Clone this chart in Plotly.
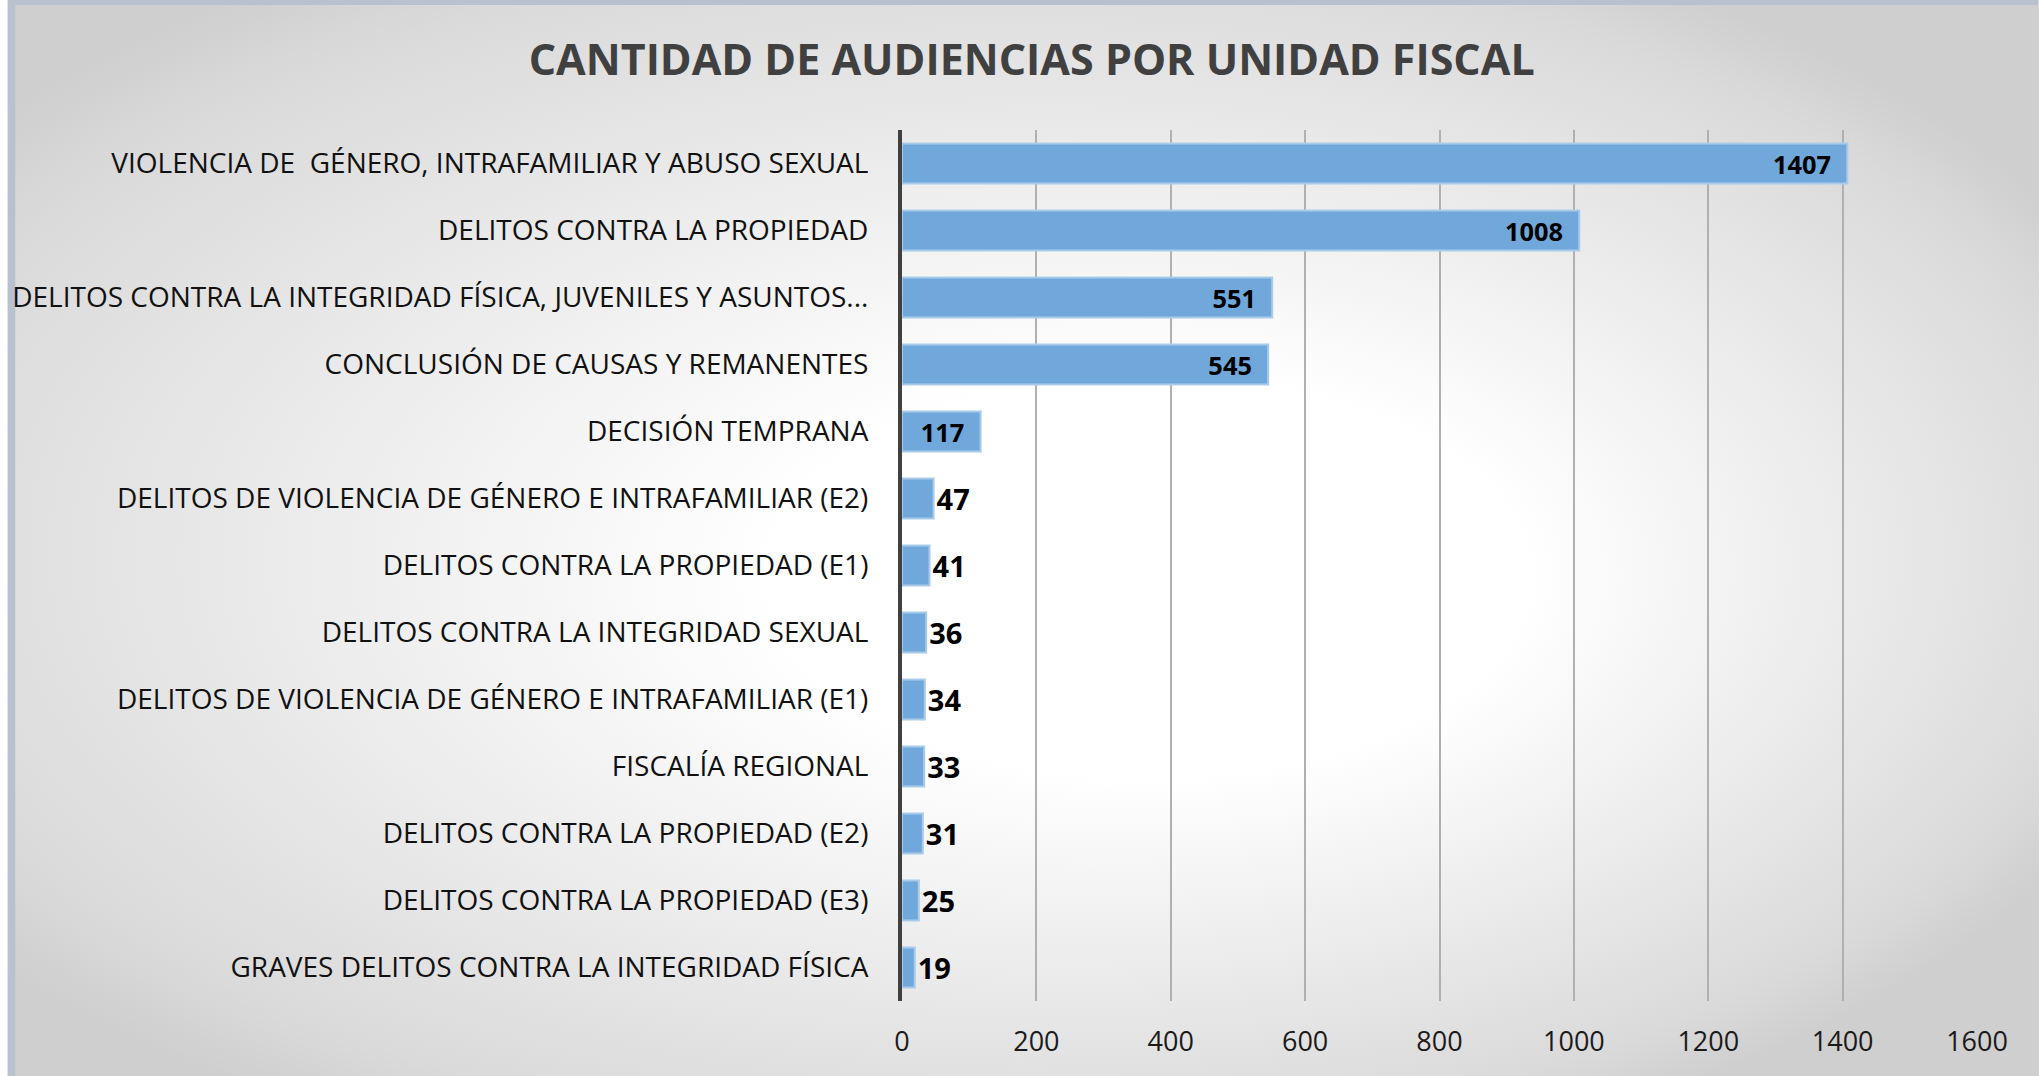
import base64

import plotly.graph_objects as go

# data
unidades = [
    "VIOLENCIA DE \u00a0GÉNERO, INTRAFAMILIAR Y ABUSO SEXUAL",
    "DELITOS CONTRA LA PROPIEDAD",
    "DELITOS CONTRA LA INTEGRIDAD FÍSICA, JUVENILES Y ASUNTOS...",
    "CONCLUSIÓN DE CAUSAS Y REMANENTES",
    "DECISIÓN TEMPRANA",
    "DELITOS DE VIOLENCIA DE GÉNERO E INTRAFAMILIAR (E2)",
    "DELITOS CONTRA LA PROPIEDAD (E1)",
    "DELITOS CONTRA LA INTEGRIDAD SEXUAL",
    "DELITOS DE VIOLENCIA DE GÉNERO E INTRAFAMILIAR (E1)",
    "FISCALÍA REGIONAL",
    "DELITOS CONTRA LA PROPIEDAD (E2)",
    "DELITOS CONTRA LA PROPIEDAD (E3)",
    "GRAVES DELITOS CONTRA LA INTEGRIDAD FÍSICA",
]
audiencias = [1407, 1008, 551, 545, 117, 47, 41, 36, 34, 33, 31, 25, 19]
x_ticks = [0, 200, 400, 600, 800, 1000, 1200, 1400, 1600]

W, H = 2039, 1076
ML, MR, MT, MB = 898, 62, 130, 75
FONT = "Open Sans"

# slide-style background: bluish frame + radial grey/white gradient
svg = f"""<svg xmlns="http://www.w3.org/2000/svg" width="{W}" height="{H}" viewBox="0 0 {W} {H}" preserveAspectRatio="none">
<defs><radialGradient id="g" cx="0.47" cy="0.5" r="0.62" fx="0.6" fy="0.55">
<stop offset="0" stop-color="#FFFFFF"/><stop offset="0.3" stop-color="#FFFFFF"/>
<stop offset="0.9" stop-color="#DADADA"/><stop offset="1" stop-color="#CFCFCF"/>
</radialGradient></defs>
<rect x="0" y="0" width="{W}" height="{H}" fill="#B8C1CD"/>
<rect x="8" y="5" width="{W - 8}" height="{H - 5}" fill="url(#g)"/>
</svg>"""
bg_src = "data:image/svg+xml;base64," + base64.b64encode(svg.encode()).decode()

pw, ph = W - ML - MR, H - MT - MB

# big bars carry their label inside the end, small ones just past it
inside = [v > 100 for v in audiencias]
labels = [f"{v}\u00a0\u00a0" if ins else str(v) for v, ins in zip(audiencias, inside)]

fig = go.Figure(go.Bar(
    x=audiencias, y=unidades, orientation="h",
    marker=dict(color="#70A8DB", line=dict(color="#A9CBEA", width=2)),
    text=labels,
    textposition=["inside" if ins else "outside" for ins in inside],
    insidetextanchor="end",
    textfont=dict(family=FONT, size=29, color="#000000", weight="bold"),
    cliponaxis=False,
))

fig.update_layout(
    width=W, height=H,
    margin=dict(l=ML, r=MR, t=MT, b=MB),
    paper_bgcolor="white", plot_bgcolor="rgba(0,0,0,0)",
    bargap=0.4, showlegend=False,
    title=dict(text="<b>CANTIDAD DE AUDIENCIAS POR UNIDAD FISCAL</b>",
               x=0.506, xanchor="center", y=1 - 60 / H, yanchor="middle",
               font=dict(family=FONT, size=43, color="#404040")),
    font=dict(family=FONT),
    images=[dict(source=bg_src, xref="paper", yref="paper",
                 x=-ML / pw, y=1 + MT / ph, sizex=W / pw, sizey=H / ph,
                 xanchor="left", yanchor="top", sizing="stretch", layer="below")],
)
fig.update_xaxes(range=[0, 1600], tickvals=x_ticks, showgrid=True, gridcolor="#B0B0B0",
                 gridwidth=2, zeroline=False, showline=False, ticks="",
                 ticklabelstandoff=22,
                 tickfont=dict(family=FONT, size=27, color="#1A1A1A"))
fig.update_yaxes(autorange="reversed", showline=True, linecolor="#404040", linewidth=4,
                 ticks="", ticklabelstandoff=24, showgrid=False,
                 tickfont=dict(family=FONT, size=28, color="#111111"))

# the page template keeps the browser's 8px body margin; drop it
fig.write_html("out.html", config={"displayModeBar": False},
               post_script="document.body.style.margin='0';")
